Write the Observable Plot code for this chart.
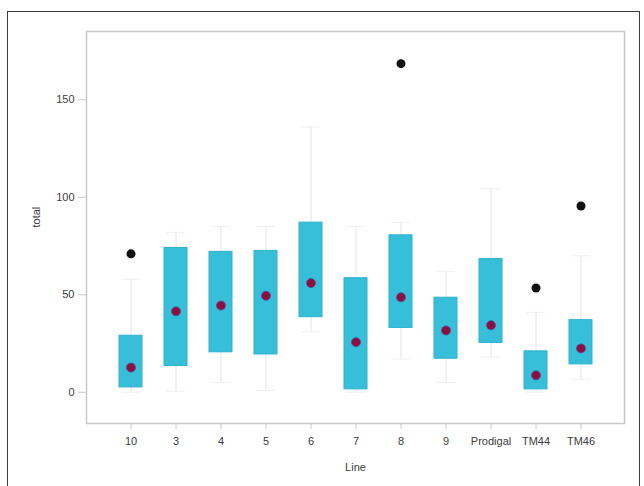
<!DOCTYPE html>
<html>
<head>
<meta charset="utf-8">
<script src="https://cdn.jsdelivr.net/npm/d3@7"></script>
<script src="https://cdn.jsdelivr.net/npm/@observablehq/plot@0.6"></script>
<style>
  html, body { margin: 0; padding: 0; background: #fff; }
  #wrap { position: relative; width: 644px; height: 486px; overflow: hidden; }
  #frame { position: absolute; left: 7px; top: 11px; width: 633px; height: 490px; border: 1.5px solid #3a3a3a; box-sizing: border-box; pointer-events: none; }
  #chart { position: absolute; left: 0; top: 0; }
</style>
</head>
<body>
<div id="wrap"><div id="chart"></div><div id="frame"></div></div>
<script>
const lines     = ["10", "3", "4", "5", "6", "7", "8", "9", "Prodigal", "TM44", "TM46"];
const q1        = [2.5, 13.5, 20.5, 19.4, 38.5, 1.5, 33, 17.2, 25.3, 1.5, 14.3];
const q3        = [29, 74, 72, 72.5, 87, 58.5, 80.5, 48.5, 68.3, 21, 37];
const median    = [12.7, 41.5, 44.5, 49.5, 56, 25.7, 48.7, 31.7, 34.4, 8.7, 22.5];
const whiskLow  = [0, 0.5, 5, 1, 31, 0, 17, 5, 18, 0, 6.5];
const whiskHigh = [58, 82, 85, 85, 136, 85, 87, 62, 104.5, 41, 70];
const outlierLine  = ["10", "8", "TM44", "TM46"];
const outlierValue = [71, 168.5, 53.5, 95.5];
const yTicks = [0, 50, 100, 150];

const boxes = lines.map((l, i) => ({line: l, q1: q1[i], q3: q3[i], med: median[i], lo: whiskLow[i], hi: whiskHigh[i]}));
const outliers = outlierLine.map((l, i) => ({line: l, value: outlierValue[i]}));

const chart = Plot.plot({
  width: 644,
  height: 486,
  marginLeft: 86,
  marginRight: 20,
  marginTop: 31,
  marginBottom: 63,
  style: {fontFamily: "'Liberation Sans', Arial, sans-serif", fontSize: "11px", color: "#3c3c3c", background: "#fff"},
  x: {type: "band", domain: lines, paddingInner: 0.5, paddingOuter: 0.72, label: null},
  y: {domain: [-16, 185], label: null},
  marks: [
    Plot.frame({stroke: "#c8c8cc", strokeWidth: 1.5}),
    Plot.axisY({ticks: yTicks, tickSize: 8, tickPadding: 4, stroke: "#c8c8cc", fill: "#3c3c3c", fontSize: 11}),
    Plot.axisX({tickSize: 6, tickPadding: 8, stroke: "#c8c8cc", fill: "#3c3c3c", fontSize: 11}),
    Plot.ruleX(boxes, {x: "line", y1: "lo", y2: "hi", stroke: "#e4e4e8", strokeWidth: 1}),
    Plot.tickY(boxes, {x: "line", y: "lo", stroke: "#efeff2", strokeWidth: 1, inset: 2}),
    Plot.tickY(boxes, {x: "line", y: "hi", stroke: "#efeff2", strokeWidth: 1, inset: 2}),
    Plot.barY(boxes, {x: "line", y1: "q1", y2: "q3", fill: "#37bed9", stroke: "#2eb2cf", strokeWidth: 1}),
    Plot.dot(boxes, {x: "line", y: "med", r: 4.5, fill: "#8c0f3d", stroke: "#5a4a9e", strokeWidth: 0.8}),
    Plot.dot(outliers, {x: "line", y: "value", r: 4.5, fill: "#111", stroke: "none"}),
    Plot.text(["total"], {frameAnchor: "left", dx: -50, rotate: -90, fontSize: 11, fill: "#3c3c3c"}),
    Plot.text(["Line"], {frameAnchor: "bottom", dy: 47, fontSize: 11, fill: "#3c3c3c"})
  ]
});
document.getElementById("chart").appendChild(chart);
</script>
</body>
</html>
